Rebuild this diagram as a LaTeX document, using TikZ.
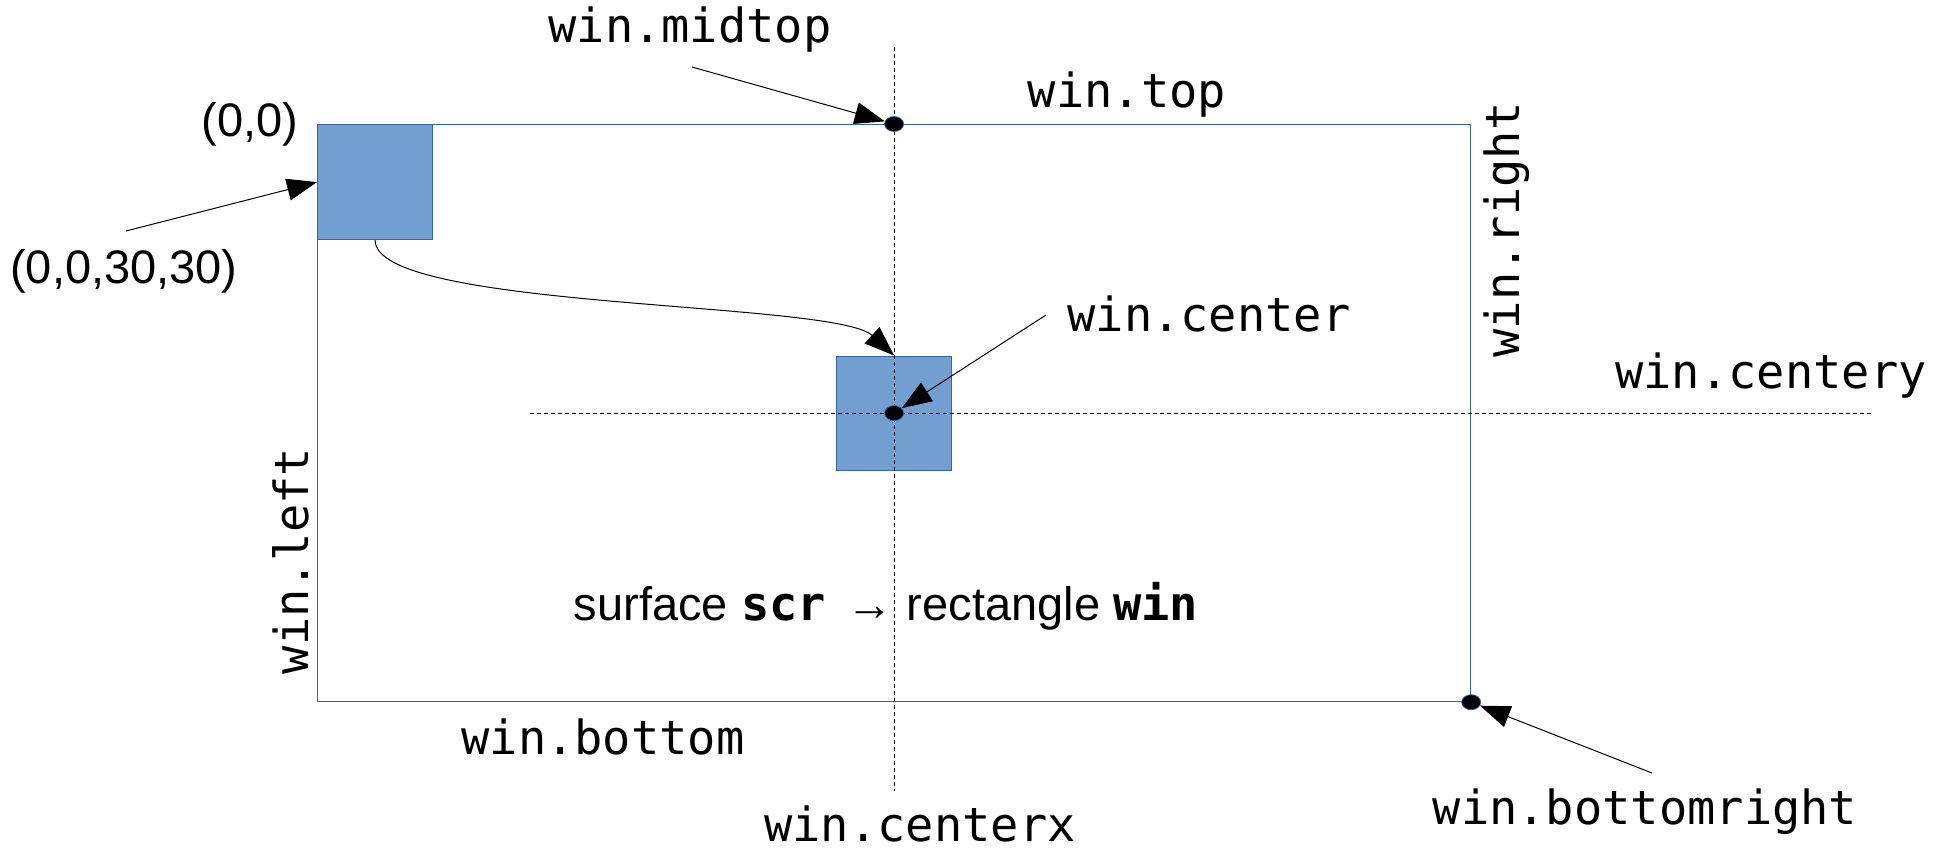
\documentclass[tikz,border=0pt]{standalone}
\usepackage{fontspec}
\setmainfont{Liberation Sans}
\setmonofont{DejaVu Sans Mono}
\usetikzlibrary{positioning, arrows.meta, shapes.geometric}

\definecolor{azulBorde}{HTML}{3465A4}
\definecolor{azulRelleno}{HTML}{729FCF}

\begin{document}
\begin{tikzpicture}[
    x=0.5pt, y=-0.5pt,
    every node/.style={font=\fontsize{23.5pt}{28pt}\selectfont, inner sep=0pt},
    etiqueta/.style={font=\fontsize{23.5pt}{28pt}\selectfont\ttfamily},
    marco/.style={rectangle, draw=azulBorde, line width=0.6pt, minimum width=576.5pt, minimum height=288.5pt},
    cuadro/.style={rectangle, draw=azulBorde, fill=azulRelleno, line width=0.6pt, minimum size=57.5pt},
    punto/.style={ellipse, draw=azulBorde, fill=black, line width=0.4pt, minimum width=9.5pt, minimum height=7.5pt},
    guia/.style={draw, line width=0.4pt, dash pattern=on 2pt off 1.5pt},
    flecha/.style={draw, line width=0.5pt, -{Triangle[length=15pt,width=11pt]}}
  ]
  \useasboundingbox (0,0) rectangle (1951,847);

  % ---------------- Ventana y cuadros ----------------
  \node (ventana) [marco, anchor=north west] at (317,124) {};
  \node (cuadroOrigen) [cuadro, anchor=north west] at (ventana.north west) {};
  \node (cuadroCentro) [cuadro, minimum height=57pt] at (ventana.center) {};

  % Lineas guia (punteadas)
  \draw[guia] ([yshift=38.5pt]ventana.north) -- ([yshift=-44.5pt]ventana.south);
  \draw[guia] ([xshift=-182pt]ventana.center) -- ([xshift=490pt]ventana.center);

  % Puntos de referencia
  \node (puntoMidtop) [punto] at (ventana.north) {};
  \node (puntoCentro) [punto] at (ventana.center) {};
  \node (puntoBR) [punto] at (ventana.south east) {};

  % ---------------- Etiquetas ----------------
  \node (origen) [left=9pt of cuadroOrigen.north west] {(0,0)};
  \node (rectOrigen) at (124,271) {(0,0,30,30)};
  \node (midtop) [etiqueta] at (690,30) {win.midtop};
  \node (top) [etiqueta] at (1127,95) {win.top};
  \node (centro) [etiqueta] at (1209,314) {win.center};
  \node (right) [etiqueta, rotate=90] at (1507,230) {win.right};
  \node (centery) [etiqueta] at (1771,376) {win.centery};
  \node (left) [etiqueta, rotate=90] at (291,561) {win.left};
  \node (bottom) [etiqueta] at (603,737) {win.bottom};
  \node (centerx) [etiqueta, anchor=base] at (920,841) {win.centerx};
  \node (bottomright) [etiqueta] at (1645,812) {win.bottomright};
  \node (leyenda) at (886,606) {surface \textbf{\ttfamily scr} \,→ rectangle \textbf{\ttfamily win}};

  % ---------------- Flechas ----------------
  \coordinate (inicioOrigen) at (126,231);
  \coordinate (inicioMidtop) at (692,67);
  \coordinate (inicioCentro) at (1046,315);
  \coordinate (inicioBR) at (1652,773);

  \draw[flecha] (inicioOrigen) -- (cuadroOrigen.west);
  \draw[flecha] (inicioMidtop) -- (puntoMidtop);
  \draw[flecha] (inicioCentro) -- (puntoCentro);
  \draw[flecha] (inicioBR) -- (puntoBR);
  \draw[flecha] (cuadroOrigen.south) .. controls +(0,-35pt) and +(-30pt,27.5pt) .. (cuadroCentro.north);

\end{tikzpicture}
\end{document}
